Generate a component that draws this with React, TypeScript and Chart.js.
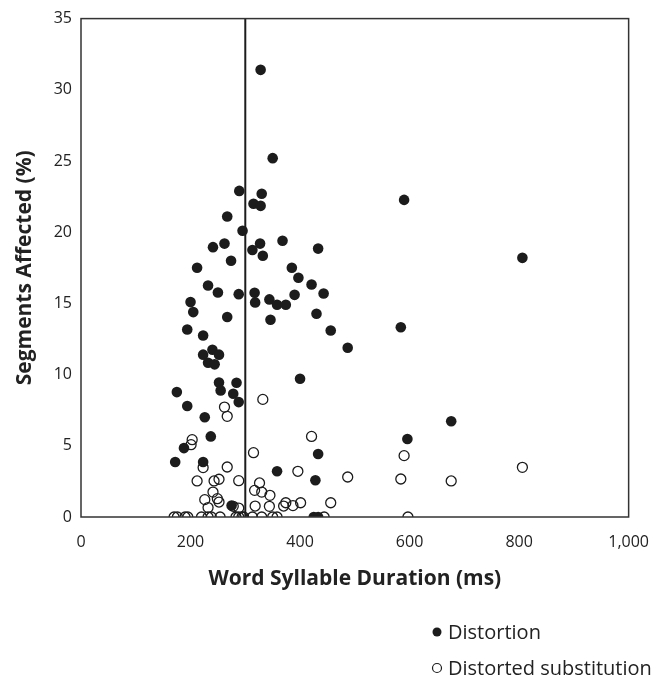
import React, { useEffect, useRef } from 'react';
import { Chart, registerables } from 'chart.js';

Chart.register(...registerables);

// Word syllable duration (ms) and segments affected (%) — Distortion
const distortionX = [
  328, 350, 289, 330, 315, 328, 267, 295, 368, 262, 327, 241, 433, 313, 332, 274,
  212, 385, 397, 232, 421, 250, 288, 317, 390, 443, 200, 318, 344, 358, 374, 205,
  430, 267, 346, 194, 456, 223, 223, 240, 252, 232, 244, 400, 175, 252, 255, 284,
  278, 288, 194, 226, 237, 188, 172, 223, 433, 358, 428, 275, 425, 433, 806, 584,
  487, 676, 596, 590,
];
const distortionY = [
  31.4, 25.2, 22.9, 22.7, 22.0, 21.85, 21.1, 20.1, 19.4, 19.2, 19.2, 18.95, 18.85, 18.75, 18.35, 18.0,
  17.5, 17.5, 16.8, 16.26, 16.33, 15.77, 15.65, 15.75, 15.6, 15.7, 15.09, 15.07, 15.28, 14.9, 14.9, 14.39,
  14.27, 14.04, 13.85, 13.17, 13.1, 12.75, 11.4, 11.75, 11.4, 10.83, 10.72, 9.71, 8.77, 9.45, 8.89, 9.43,
  8.66, 8.07, 7.79, 7.0, 5.66, 4.84, 3.86, 3.86, 4.42, 3.21, 2.58, 0.8, 0, 0, 18.2, 13.33,
  11.89, 6.72, 5.48, 22.27,
];

// Distorted substitution
const substitutionX = [
  332, 262, 267, 421, 203, 201, 315, 590, 223, 267, 806, 396, 487, 584, 676, 212,
  243, 252, 288, 326, 241, 317, 330, 345, 226, 249, 252, 232, 278, 288, 318, 344,
  370, 374, 387, 401, 456,
  170, 176, 190, 195, 220, 232, 238, 254, 283, 288, 294, 297, 313, 330, 350, 358, 444, 597,
];
const substitutionY = [
  8.26, 7.72, 7.07, 5.66, 5.43, 5.08, 4.52, 4.31, 3.47, 3.51, 3.49, 3.21, 2.81, 2.67, 2.53, 2.53,
  2.53, 2.65, 2.55, 2.39, 1.75, 1.87, 1.75, 1.52, 1.22, 1.29, 1.05, 0.66, 0.75, 0.63, 0.77, 0.75,
  0.77, 1.0, 0.8, 1.0, 1.0,
  0, 0, 0, 0, 0, 0, 0, 0, 0, 0, 0, 0, 0, 0, 0, 0, 0, 0,
];

const seriesLabels = ['Distortion', 'Distorted substitution'];
const thresholdMs = 300;
const xTickValues = [0, 200, 400, 600, 800, 1000];
const yTickValues = [0, 5, 10, 15, 20, 25, 30, 35];
const xTitle = 'Word Syllable Duration (ms)';
const yTitle = 'Segments Affected (%)';

const INK = '#1c1c1c';
const AXIS = '#333333';

const pairs = (xs: number[], ys: number[]) => xs.map((x, i) => ({ x, y: ys[i] }));

const decorPlugin = {
  id: 'decor',
  beforeDatasetsDraw(chart: any) {
    const { ctx, chartArea, scales } = chart;
    const px = scales.x.getPixelForValue(thresholdMs);
    ctx.save();
    ctx.strokeStyle = INK;
    ctx.lineWidth = 2;
    ctx.beginPath();
    ctx.moveTo(px, chartArea.top);
    ctx.lineTo(px, chartArea.bottom);
    ctx.stroke();
    ctx.restore();
  },
  afterDraw(chart: any) {
    const { ctx, chartArea } = chart;
    ctx.save();
    ctx.strokeStyle = AXIS;
    ctx.lineWidth = 1.5;
    ctx.strokeRect(chartArea.left, chartArea.top, chartArea.right - chartArea.left, chartArea.bottom - chartArea.top);

    // legend
    const lx = 437;
    const ys = [632, 668];
    ctx.font = '20px "Open Sans"';
    ctx.textBaseline = 'middle';
    ctx.textAlign = 'left';
    seriesLabels.forEach((label, i) => {
      ctx.beginPath();
      ctx.arc(lx, ys[i], 4.5, 0, Math.PI * 2);
      if (i === 0) {
        ctx.fillStyle = INK;
        ctx.fill();
      } else {
        ctx.strokeStyle = INK;
        ctx.lineWidth = 1.2;
        ctx.stroke();
      }
      ctx.fillStyle = '#222';
      ctx.fillText(label, lx + 11, ys[i] + 1);
    });
    ctx.restore();
  },
};

export default function App() {
  const ref = useRef<HTMLCanvasElement | null>(null);

  useEffect(() => {
    if (!ref.current) return;
    const chart = new Chart(ref.current, {
      type: 'scatter',
      data: {
        datasets: [
          {
            label: seriesLabels[0],
            data: pairs(distortionX, distortionY),
            pointRadius: 5.3,
            pointHoverRadius: 5.3,
            backgroundColor: INK,
            borderColor: INK,
            borderWidth: 0,
          },
          {
            label: seriesLabels[1],
            data: pairs(substitutionX, substitutionY),
            pointRadius: 5,
            pointHoverRadius: 5,
            backgroundColor: 'rgba(255,255,255,0)',
            borderColor: INK,
            borderWidth: 1.3,
          },
        ],
      },
      options: {
        responsive: false,
        animation: false,
        layout: { padding: { top: 18, right: 33, left: 0, bottom: 0 } },
        plugins: { legend: { display: false }, tooltip: { enabled: false } },
        scales: {
          x: {
            type: 'linear',
            min: xTickValues[0],
            max: xTickValues[xTickValues.length - 1],
            afterBuildTicks: (s: any) => {
              s.ticks = xTickValues.map((v) => ({ value: v }));
            },
            afterFit: (s: any) => {
              s.height = 163;
            },
            grid: { display: false, drawTicks: false, tickLength: 0 },
            border: { display: false },
            ticks: {
              padding: 16,
              color: '#222',
              font: { family: '"Open Sans"', size: 16 },
              callback: (v: any) => Number(v).toLocaleString('en-US'),
            },
            title: {
              display: true,
              text: xTitle,
              color: '#222',
              font: { family: '"Open Sans"', size: 21, weight: 'bold' },
              padding: { top: 0, bottom: 88 },
            },
          },
          y: {
            type: 'linear',
            min: yTickValues[0],
            max: yTickValues[yTickValues.length - 1],
            afterBuildTicks: (s: any) => {
              s.ticks = yTickValues.map((v) => ({ value: v }));
            },
            afterFit: (s: any) => {
              s.width = 81;
            },
            grid: { display: false, drawTicks: false, tickLength: 0 },
            border: { display: false },
            ticks: {
              padding: 9,
              color: '#222',
              font: { family: '"Open Sans"', size: 16 },
            },
            title: {
              display: true,
              text: yTitle,
              color: '#222',
              font: { family: '"Open Sans"', size: 21, weight: 'bold' },
              padding: { top: 12, bottom: 0 },
            },
          },
        },
      },
      plugins: [decorPlugin],
    });
    return () => chart.destroy();
  }, []);

  return (
    <div style={{ position: 'absolute', left: 0, top: 0, width: 665, height: 680 }}>
      <canvas ref={ref} width={665} height={680} />
    </div>
  );
}
